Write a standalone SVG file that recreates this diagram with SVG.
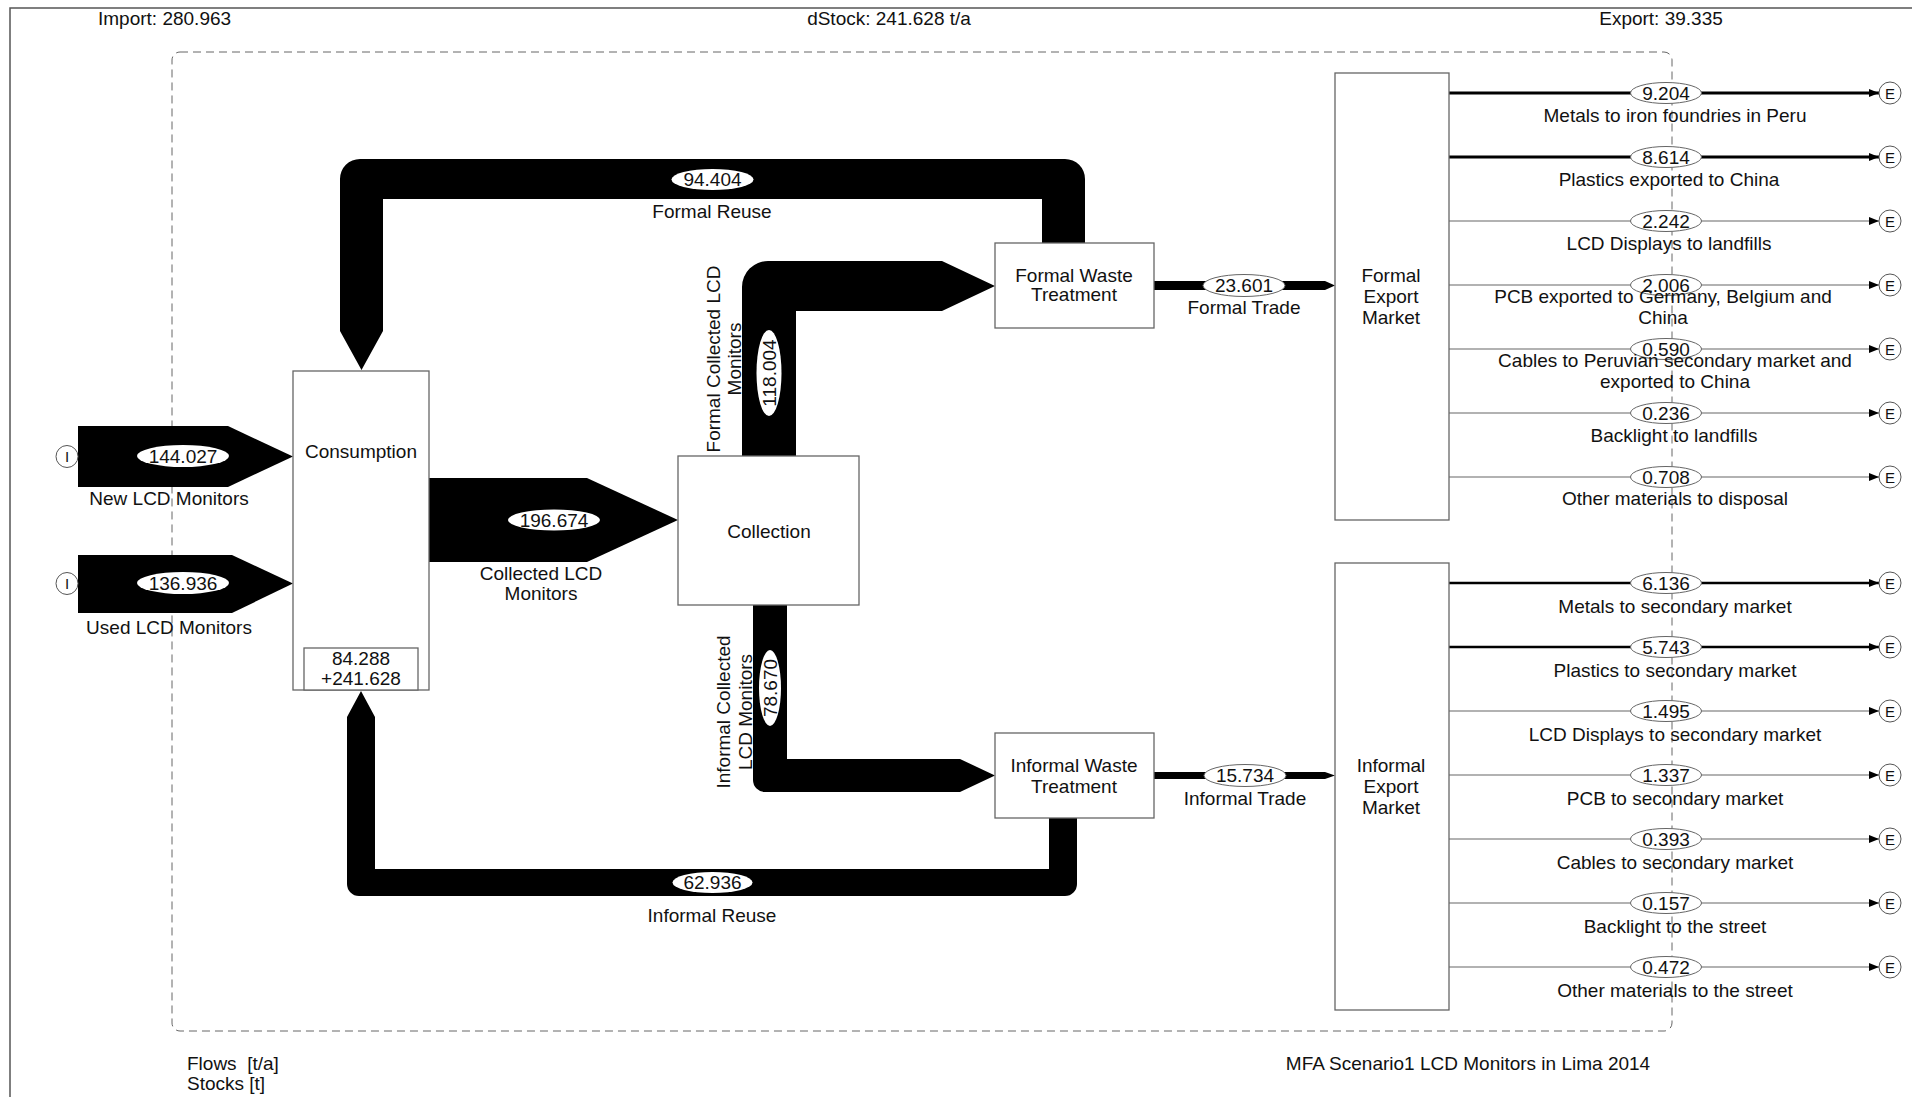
<svg xmlns="http://www.w3.org/2000/svg" width="1912" height="1097" viewBox="0 0 1912 1097">
<style>
.t{font-family:"Liberation Sans",Arial,sans-serif;font-size:19px;fill:#111}
.m{text-anchor:middle}
.box{fill:#fff;stroke:#666;stroke-width:1.3}
.flow{fill:#000}
.lw{fill:#fff}
.lo{fill:#fff;stroke:#666;stroke-width:1}
.thick{stroke:#000;stroke-width:3;fill:none}
.thin{stroke:#666;stroke-width:1.2;fill:none}
.term{fill:#fff;stroke:#555;stroke-width:1}
.tt{font-family:"Liberation Sans",Arial,sans-serif;font-size:15px;fill:#111;text-anchor:middle}
</style>
<defs>
<marker id="ah" markerUnits="userSpaceOnUse" markerWidth="10" markerHeight="8" refX="10" refY="4" orient="auto"><path d="M0,0 L10,4 L0,8 Z" fill="#000"/></marker>
</defs>
<rect x="0" y="0" width="1912" height="1097" fill="#fff"/>
<rect x="10" y="8" width="1920" height="1110" fill="none" stroke="#555" stroke-width="1.5"/>
<rect x="172" y="52" width="1500" height="979" rx="8" fill="none" stroke="#666" stroke-width="1" stroke-dasharray="8,5"/>

<g id="header">
<text class="t" x="98" y="24.5">Import: 280.963</text>
<text class="t m" x="889" y="24.5">dStock: 241.628 t/a</text>
<text class="t m" x="1661" y="24.5">Export: 39.335</text>
</g>

<g id="connectors">
<!-- New LCD Monitors -->
<path class="flow" d="M78,426 L228,426 L293,456.5 L228,487 L78,487 Z"/>
<ellipse class="lw" cx="183" cy="456" rx="46" ry="11"/>
<text class="t m" x="183" y="462.5">144.027</text>
<text class="t m" x="169" y="504.5">New LCD Monitors</text>
<!-- Used LCD Monitors -->
<path class="flow" d="M78,555 L232,555 L293,583.5 L232,613 L78,613 Z"/>
<ellipse class="lw" cx="183" cy="583" rx="46" ry="11"/>
<text class="t m" x="183" y="589.5">136.936</text>
<text class="t m" x="169" y="633.5">Used LCD Monitors</text>
<!-- Collected LCD Monitors -->
<path class="flow" d="M429,478 L587,478 L678,520 L587,562 L429,562 Z"/>
<ellipse class="lw" cx="554" cy="520" rx="46" ry="10.5"/>
<text class="t m" x="554" y="526.5">196.674</text>
<text class="t m" x="541" y="579.5">Collected LCD</text>
<text class="t m" x="541" y="600">Monitors</text>
<!-- Formal Collected -->
<path class="flow" d="M742,456 L742,287 A26,26 0 0 1 768,261 L942,261 L995,286 L942,311 L796,311 L796,456 Z"/>
<ellipse class="lw" cx="769" cy="373" rx="12.5" ry="43"/>
<text class="t m" transform="translate(775.5,373) rotate(-90)">118.004</text>
<text class="t m" transform="translate(719.5,359) rotate(-90)">Formal Collected LCD</text>
<text class="t m" transform="translate(740.5,359) rotate(-90)">Monitors</text>
<!-- Informal Collected -->
<path class="flow" d="M753,605 L753,780 A12,12 0 0 0 765,792 L960,792 L995,775.5 L960,759 L787,759 L787,605 Z"/>
<ellipse class="lw" cx="770" cy="688" rx="11" ry="38"/>
<text class="t m" transform="translate(776.5,688) rotate(-90)">78.670</text>
<text class="t m" transform="translate(730,712) rotate(-90)">Informal Collected</text>
<text class="t m" transform="translate(751.5,712) rotate(-90)">LCD Monitors</text>
<!-- Formal Reuse -->
<path class="flow" d="M1042,243 L1042,199 L383,199 L383,331 L361.5,370 L340,331 L340,179 A20,20 0 0 1 360,159 L1065,159 A20,20 0 0 1 1085,179 L1085,243 Z"/>
<ellipse class="lw" cx="712.5" cy="179.5" rx="41" ry="10.5"/>
<text class="t m" x="712.5" y="186">94.404</text>
<text class="t m" x="712" y="217.5">Formal Reuse</text>
<!-- Informal Reuse -->
<path class="flow" d="M1049,818 L1049,869 L375,869 L375,717 L361,691 L347,717 L347,884 A12,12 0 0 0 359,896 L1065,896 A12,12 0 0 0 1077,884 L1077,818 Z"/>
<ellipse class="lw" cx="712.5" cy="882.5" rx="40" ry="10.5"/>
<text class="t m" x="712.5" y="889">62.936</text>
<text class="t m" x="712" y="921.5">Informal Reuse</text>
<!-- Formal Trade -->
<path class="flow" d="M1154,281 L1325,281 L1335,285.5 L1325,290 L1154,290 Z"/>
<ellipse class="lo" cx="1244" cy="285.5" rx="41" ry="11"/>
<text class="t m" x="1244" y="292">23.601</text>
<text class="t m" x="1244" y="313.5">Formal Trade</text>
<!-- Informal Trade -->
<path class="flow" d="M1154,772 L1325,772 L1335,775.5 L1325,779 L1154,779 Z"/>
<ellipse class="lo" cx="1245" cy="775.5" rx="41" ry="11"/>
<text class="t m" x="1245" y="782">15.734</text>
<text class="t m" x="1245" y="804.5">Informal Trade</text>

<!-- Formal exports -->
<line class="thick" x1="1449" y1="93" x2="1879" y2="93" marker-end="url(#ah)"/>
<line class="thick" x1="1449" y1="157" x2="1879" y2="157" marker-end="url(#ah)"/>
<line class="thin" x1="1449" y1="221" x2="1879" y2="221" marker-end="url(#ah)"/>
<line class="thin" x1="1449" y1="285" x2="1879" y2="285" marker-end="url(#ah)"/>
<line class="thin" x1="1449" y1="349" x2="1879" y2="349" marker-end="url(#ah)"/>
<line class="thin" x1="1449" y1="413" x2="1879" y2="413" marker-end="url(#ah)"/>
<line class="thin" x1="1449" y1="477" x2="1879" y2="477" marker-end="url(#ah)"/>
<ellipse class="lo" cx="1666" cy="93" rx="35.5" ry="10.5"/>
<ellipse class="lo" cx="1666" cy="157" rx="35.5" ry="10.5"/>
<ellipse class="lo" cx="1666" cy="221" rx="35.5" ry="10.5"/>
<ellipse class="lo" cx="1666" cy="285" rx="35.5" ry="10.5"/>
<ellipse class="lo" cx="1666" cy="349" rx="35.5" ry="10.5"/>
<ellipse class="lo" cx="1666" cy="413" rx="35.5" ry="10.5"/>
<ellipse class="lo" cx="1666" cy="477" rx="35.5" ry="10.5"/>
<text class="t m" x="1666" y="99.5">9.204</text>
<text class="t m" x="1666" y="163.5">8.614</text>
<text class="t m" x="1666" y="227.5">2.242</text>
<text class="t m" x="1666" y="291.5">2.006</text>
<text class="t m" x="1666" y="355.5">0.590</text>
<text class="t m" x="1666" y="419.5">0.236</text>
<text class="t m" x="1666" y="483.5">0.708</text>
<text class="t m" x="1675" y="121.5">Metals to iron foundries in Peru</text>
<text class="t m" x="1669" y="185.5">Plastics exported to China</text>
<text class="t m" x="1669" y="249.5">LCD Displays to landfills</text>
<text class="t m" x="1663" y="302.5">PCB exported to Germany, Belgium and</text>
<text class="t m" x="1663" y="323.5">China</text>
<text class="t m" x="1675" y="366.5">Cables to Peruvian secondary market and</text>
<text class="t m" x="1675" y="387.5">exported to China</text>
<text class="t m" x="1674" y="441.5">Backlight to landfills</text>
<text class="t m" x="1675" y="504.5">Other materials to disposal</text>

<!-- Informal exports -->
<line class="thick" x1="1449" y1="583" x2="1879" y2="583" marker-end="url(#ah)" style="stroke-width:2.5"/>
<line class="thick" x1="1449" y1="647" x2="1879" y2="647" marker-end="url(#ah)" style="stroke-width:2.5"/>
<line class="thin" x1="1449" y1="711" x2="1879" y2="711" marker-end="url(#ah)"/>
<line class="thin" x1="1449" y1="775" x2="1879" y2="775" marker-end="url(#ah)"/>
<line class="thin" x1="1449" y1="839" x2="1879" y2="839" marker-end="url(#ah)"/>
<line class="thin" x1="1449" y1="903" x2="1879" y2="903" marker-end="url(#ah)"/>
<line class="thin" x1="1449" y1="967" x2="1879" y2="967" marker-end="url(#ah)"/>
<ellipse class="lo" cx="1666" cy="583" rx="35.5" ry="10.5"/>
<ellipse class="lo" cx="1666" cy="647" rx="35.5" ry="10.5"/>
<ellipse class="lo" cx="1666" cy="711" rx="35.5" ry="10.5"/>
<ellipse class="lo" cx="1666" cy="775" rx="35.5" ry="10.5"/>
<ellipse class="lo" cx="1666" cy="839" rx="35.5" ry="10.5"/>
<ellipse class="lo" cx="1666" cy="903" rx="35.5" ry="10.5"/>
<ellipse class="lo" cx="1666" cy="967" rx="35.5" ry="10.5"/>
<text class="t m" x="1666" y="589.5">6.136</text>
<text class="t m" x="1666" y="653.5">5.743</text>
<text class="t m" x="1666" y="717.5">1.495</text>
<text class="t m" x="1666" y="781.5">1.337</text>
<text class="t m" x="1666" y="845.5">0.393</text>
<text class="t m" x="1666" y="909.5">0.157</text>
<text class="t m" x="1666" y="973.5">0.472</text>
<text class="t m" x="1675" y="612.5">Metals to secondary market</text>
<text class="t m" x="1675" y="676.5">Plastics to secondary market</text>
<text class="t m" x="1675" y="740.5">LCD Displays to secondary market</text>
<text class="t m" x="1675" y="804.5">PCB to secondary market</text>
<text class="t m" x="1675" y="868.5">Cables to secondary market</text>
<text class="t m" x="1675" y="932.5">Backlight to the street</text>
<text class="t m" x="1675" y="996.5">Other materials to the street</text>
</g>

<g id="import-new"><circle class="term" cx="67" cy="456.5" r="11"/><text class="tt" x="67" y="462">I</text></g>
<g id="import-used"><circle class="term" cx="67" cy="583.5" r="11"/><text class="tt" x="67" y="589">I</text></g>

<g id="consumption">
<rect class="box" x="293" y="371" width="136" height="319"/>
<text class="t m" x="361" y="457.5">Consumption</text>
<rect class="box" x="304" y="648" width="114" height="42"/>
<text class="t m" x="361" y="664.5">84.288</text>
<text class="t m" x="361" y="685">+241.628</text>
</g>

<g id="collection">
<rect class="box" x="678" y="456" width="181" height="149"/>
<text class="t m" x="769" y="537.5">Collection</text>
</g>

<g id="formal-waste-treatment">
<rect class="box" x="995" y="243" width="159" height="85"/>
<text class="t m" x="1074" y="281.5">Formal Waste</text>
<text class="t m" x="1074" y="301">Treatment</text>
</g>

<g id="informal-waste-treatment">
<rect class="box" x="995" y="733" width="159" height="85"/>
<text class="t m" x="1074" y="771.5">Informal Waste</text>
<text class="t m" x="1074" y="792.5">Treatment</text>
</g>

<g id="formal-export-market">
<rect class="box" x="1335" y="73" width="114" height="447"/>
<text class="t m" x="1391" y="281.5">Formal</text>
<text class="t m" x="1391" y="302.5">Export</text>
<text class="t m" x="1391" y="323.5">Market</text>
</g>

<g id="informal-export-market">
<rect class="box" x="1335" y="563" width="114" height="447"/>
<text class="t m" x="1391" y="771.5">Informal</text>
<text class="t m" x="1391" y="792.5">Export</text>
<text class="t m" x="1391" y="813.5">Market</text>
</g>

<g id="export-terminals">
<circle class="term" cx="1890" cy="93" r="11"/><text class="tt" x="1890" y="98.5">E</text>
<circle class="term" cx="1890" cy="157" r="11"/><text class="tt" x="1890" y="162.5">E</text>
<circle class="term" cx="1890" cy="221" r="11"/><text class="tt" x="1890" y="226.5">E</text>
<circle class="term" cx="1890" cy="285" r="11"/><text class="tt" x="1890" y="290.5">E</text>
<circle class="term" cx="1890" cy="349" r="11"/><text class="tt" x="1890" y="354.5">E</text>
<circle class="term" cx="1890" cy="413" r="11"/><text class="tt" x="1890" y="418.5">E</text>
<circle class="term" cx="1890" cy="477" r="11"/><text class="tt" x="1890" y="482.5">E</text>
<circle class="term" cx="1890" cy="583" r="11"/><text class="tt" x="1890" y="588.5">E</text>
<circle class="term" cx="1890" cy="647" r="11"/><text class="tt" x="1890" y="652.5">E</text>
<circle class="term" cx="1890" cy="711" r="11"/><text class="tt" x="1890" y="716.5">E</text>
<circle class="term" cx="1890" cy="775" r="11"/><text class="tt" x="1890" y="780.5">E</text>
<circle class="term" cx="1890" cy="839" r="11"/><text class="tt" x="1890" y="844.5">E</text>
<circle class="term" cx="1890" cy="903" r="11"/><text class="tt" x="1890" y="908.5">E</text>
<circle class="term" cx="1890" cy="967" r="11"/><text class="tt" x="1890" y="972.5">E</text>
</g>

<g id="footer">
<text class="t" x="187" y="1069.5" xml:space="preserve">Flows  [t/a]</text>
<text class="t" x="187" y="1089.5">Stocks [t]</text>
<text class="t m" x="1468" y="1069.5">MFA Scenario1 LCD Monitors in Lima 2014</text>
</g>
</svg>
